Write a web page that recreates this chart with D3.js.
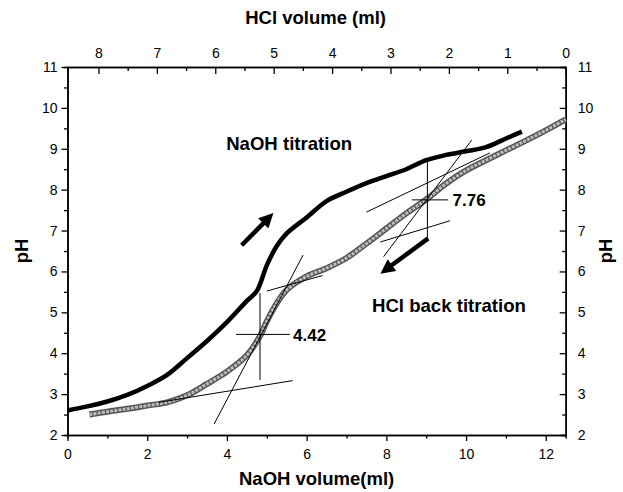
<!DOCTYPE html>
<html>
<head>
<meta charset="utf-8">
<script src="https://cdn.jsdelivr.net/npm/d3@7"></script>
<style>
  body { margin: 0; background: #fff; }
  svg { font-family: "Liberation Sans", Arial, sans-serif; }
</style>
</head>
<body>
<script>
// NaOH titration (black curve)
var naohVol = [0, 0.5, 1, 1.5, 2, 2.5, 3, 3.5, 4, 4.5, 4.75, 5, 5.25, 5.5, 6, 6.5, 7, 7.5, 8, 8.5, 9, 9.5, 10, 10.5, 11, 11.4];
var naohPH  = [2.60, 2.70, 2.82, 2.98, 3.20, 3.47, 3.88, 4.30, 4.76, 5.28, 5.52, 6.15, 6.62, 6.93, 7.32, 7.72, 7.95, 8.16, 8.33, 8.50, 8.72, 8.85, 8.94, 9.04, 9.25, 9.42];

// HCl back titration (grey curve)
var hclVol = [0.55, 1, 1.5, 2, 2.5, 3, 3.5, 4, 4.5, 4.83, 5, 5.25, 5.5, 6, 6.5, 7, 7.5, 8, 8.5, 9, 9.5, 10, 10.5, 11, 11.5, 12, 12.5];
var hclPH  = [2.50, 2.57, 2.64, 2.72, 2.80, 2.97, 3.25, 3.55, 3.95, 4.42, 4.78, 5.22, 5.55, 5.88, 6.08, 6.33, 6.68, 7.05, 7.42, 7.76, 8.15, 8.47, 8.72, 8.96, 9.20, 9.45, 9.72];

// tangent / construction lines [vol, pH] pairs
var tangents = [
  [[3.68, 2.27], [5.91, 6.40]],
  [[2.30, 2.80], [5.65, 3.33]],
  [[5.00, 5.52], [6.40, 5.90]],
  [[4.83, 3.35], [4.83, 5.47]],
  [[4.23, 4.46], [5.58, 4.46]],
  [[7.93, 6.36], [10.14, 9.21]],
  [[7.50, 7.45], [10.60, 8.90]],
  [[7.85, 6.72], [9.60, 7.24]],
  [[9.03, 6.73], [9.03, 8.68]],
  [[8.64, 7.75], [9.55, 7.75]]
];

// arrows [from, to]
var arrows = [
  [[4.37, 6.64], [5.21, 7.47]],
  [[9.05, 6.81], [7.80, 5.91]]
];

var labels = [
  {text: "NaOH titration", v: 3.98, p: 8.98, size: 18.6},
  {text: "HCl back titration", v: 7.64, p: 5.0, size: 18.6},
  {text: "4.42", v: 5.66, p: 4.31, size: 17},
  {text: "7.76", v: 9.66, p: 7.6, size: 17}
];

var bottomTicks = [0, 2, 4, 6, 8, 10, 12];
var topTicks = [8, 7, 6, 5, 4, 3, 2, 1, 0];
var yTicks = [2, 3, 4, 5, 6, 7, 8, 9, 10, 11];

var W = 623, H = 492;
var margin = {top: 67, right: 57.3, bottom: 57, left: 67.5},
    width = W - margin.left - margin.right,
    height = H - margin.top - margin.bottom;

var svg = d3.select("body").append("svg")
    .attr("width", W)
    .attr("height", H);

var g = svg.append("g")
    .attr("transform", "translate(" + margin.left + "," + margin.top + ")");

var x = d3.scaleLinear().domain([0, 12.5]).range([0, width]);
var xTop = d3.scaleLinear().domain([8.53, 0]).range([0, width]);
var y = d3.scaleLinear().domain([2, 11]).range([height, 0]);

// minor ticks
g.append("g").attr("class", "axis minor")
    .attr("transform", "translate(0," + height + ")")
    .call(d3.axisBottom(x).tickValues(d3.range(1, 13, 2)).tickSize(3.5).tickFormat(""));
g.append("g").attr("class", "axis minor")
    .call(d3.axisTop(xTop).tickValues(d3.range(0.5, 8.5, 1)).tickSize(-4).tickFormat(""));
g.append("g").attr("class", "axis minor")
    .call(d3.axisLeft(y).tickValues(d3.range(2.5, 11, 1)).tickSize(3.5).tickFormat(""));
g.append("g").attr("class", "axis minor")
    .attr("transform", "translate(" + width + ",0)")
    .call(d3.axisRight(y).tickValues(d3.range(2.5, 11, 1)).tickSize(-3.5).tickFormat(""));

// major axes
g.append("g").attr("class", "axis")
    .attr("transform", "translate(0," + height + ")")
    .call(d3.axisBottom(x).tickValues(bottomTicks).tickSizeInner(6).tickSizeOuter(0).tickPadding(8));
g.append("g").attr("class", "axis")
    .call(d3.axisTop(xTop).tickValues(topTicks).tickSizeInner(-7).tickSizeOuter(0).tickPadding(9));
g.append("g").attr("class", "axis")
    .call(d3.axisLeft(y).tickValues(yTicks).tickSizeInner(6).tickSizeOuter(0).tickPadding(4));
g.append("g").attr("class", "axis")
    .attr("transform", "translate(" + width + ",0)")
    .call(d3.axisRight(y).tickValues(yTicks).tickSizeInner(-6).tickSizeOuter(0).tickPadding(12));

g.selectAll(".axis path").attr("stroke", "#000").attr("stroke-width", 1.5);
g.selectAll(".axis line").attr("stroke", "#000").attr("stroke-width", 1.3);
g.selectAll(".axis text").attr("font-size", 14).attr("fill", "#000")
    .attr("font-family", "'Liberation Sans', Arial, sans-serif");

// curves
var line = d3.line()
    .x(function (d) { return x(d[0]); })
    .y(function (d) { return y(d[1]); })
    .curve(d3.curveCatmullRom);

var hclData = hclVol.map(function (v, i) { return [v, hclPH[i]]; });
var naohData = naohVol.map(function (v, i) { return [v, naohPH[i]]; });

g.append("path").datum(hclData)
    .attr("d", line).attr("fill", "none")
    .attr("stroke", "#555").attr("stroke-width", 6);
g.append("path").datum(hclData)
    .attr("d", line).attr("fill", "none")
    .attr("stroke", "#bdbdbd").attr("stroke-width", 3)
    .attr("stroke-dasharray", "3,1.2");

g.append("path").datum(naohData)
    .attr("d", line).attr("fill", "none")
    .attr("stroke", "#000").attr("stroke-width", 4.5)
    .attr("stroke-linejoin", "round");

// tangent lines
g.selectAll(".tangent")
    .data(tangents)
    .enter().append("line")
    .attr("class", "tangent")
    .attr("x1", function (d) { return x(d[0][0]); })
    .attr("y1", function (d) { return y(d[0][1]); })
    .attr("x2", function (d) { return x(d[1][0]); })
    .attr("y2", function (d) { return y(d[1][1]); })
    .attr("stroke", "#000")
    .attr("stroke-width", 1);

// arrows
svg.append("defs").append("marker")
    .attr("id", "head")
    .attr("viewBox", "0 0 10 10")
    .attr("refX", 2).attr("refY", 5)
    .attr("markerWidth", 3.6).attr("markerHeight", 3.2)
    .attr("markerUnits", "strokeWidth")
    .attr("orient", "auto")
    .append("path").attr("d", "M0,0L10,5L0,10Z").attr("fill", "#000");

g.selectAll(".arrow")
    .data(arrows)
    .enter().append("line")
    .attr("class", "arrow")
    .attr("x1", function (d) { return x(d[0][0]); })
    .attr("y1", function (d) { return y(d[0][1]); })
    .attr("x2", function (d) {
      var a = x(d[0][0]), b = x(d[1][0]), c = y(d[0][1]), e = y(d[1][1]);
      var len = Math.hypot(b - a, e - c);
      return b - (b - a) / len * 14;
    })
    .attr("y2", function (d) {
      var a = x(d[0][0]), b = x(d[1][0]), c = y(d[0][1]), e = y(d[1][1]);
      var len = Math.hypot(b - a, e - c);
      return e - (e - c) / len * 14;
    })
    .attr("stroke", "#000")
    .attr("stroke-width", 4.5)
    .attr("marker-end", "url(#head)");

// text labels
g.selectAll(".lbl")
    .data(labels)
    .enter().append("text")
    .attr("class", "lbl")
    .attr("x", function (d) { return x(d.v); })
    .attr("y", function (d) { return y(d.p); })
    .attr("font-size", function (d) { return d.size; })
    .attr("font-weight", "bold")
    .text(function (d) { return d.text; });

// axis titles
svg.append("text")
    .attr("x", margin.left + width / 2 - 1).attr("y", 24)
    .attr("text-anchor", "middle")
    .attr("font-size", 18.5).attr("font-weight", "bold")
    .text("HCl volume (ml)");

svg.append("text")
    .attr("x", margin.left + width / 2).attr("y", 485)
    .attr("text-anchor", "middle")
    .attr("font-size", 18.5).attr("font-weight", "bold")
    .text("NaOH volume(ml)");

svg.append("text")
    .attr("transform", "translate(28," + (margin.top + height / 2) + ") rotate(-90)")
    .attr("text-anchor", "middle")
    .attr("font-size", 18.5).attr("font-weight", "bold")
    .text("pH");

svg.append("text")
    .attr("transform", "translate(612," + (margin.top + height / 2) + ") rotate(-90)")
    .attr("text-anchor", "middle")
    .attr("font-size", 18.5).attr("font-weight", "bold")
    .text("pH");
</script>
</body>
</html>
